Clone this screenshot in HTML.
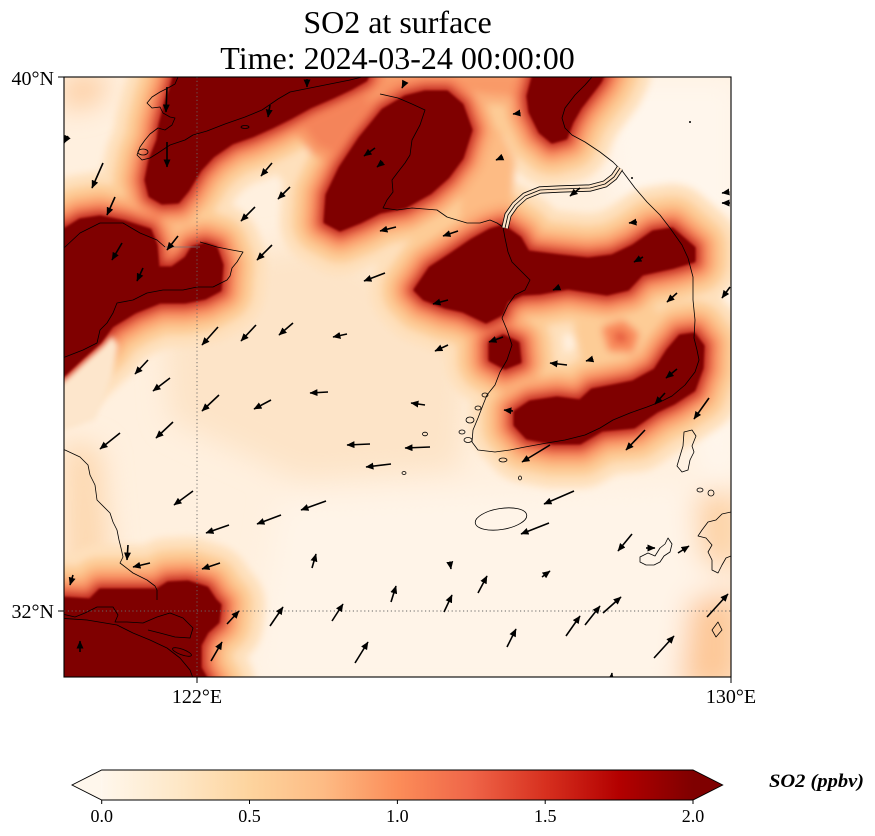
<!DOCTYPE html>
<html><head><meta charset="utf-8"><style>
html,body{margin:0;padding:0;background:#fff;}
svg{display:block;font-family:"Liberation Serif","DejaVu Serif",serif;}
.ar line{stroke:#000;stroke-width:1.6;marker-end:url(#ah);}
.cst{fill:none;stroke:#000;stroke-width:0.8;stroke-linejoin:round;}
</style></head><body>
<svg width="875" height="836" viewBox="0 0 875 836" xmlns="http://www.w3.org/2000/svg">
<defs>
<clipPath id="pc"><rect x="64" y="77" width="667" height="600"/></clipPath>
<filter id="bl" x="-30%" y="-30%" width="160%" height="160%"><feGaussianBlur stdDeviation="4"/></filter>
<filter id="bl2" x="-10%" y="-10%" width="120%" height="120%"><feGaussianBlur stdDeviation="1"/></filter>
<filter id="bl4" x="-30%" y="-30%" width="160%" height="160%"><feGaussianBlur stdDeviation="3"/></filter>
<filter id="bl3" x="-50%" y="-50%" width="200%" height="200%"><feGaussianBlur stdDeviation="14"/></filter>
<linearGradient id="cb" x1="0" x2="1" y1="0" y2="0">
<stop offset="0" stop-color="#fff7ec"/><stop offset="0.125" stop-color="#fee8c8"/><stop offset="0.25" stop-color="#fdd49e"/><stop offset="0.375" stop-color="#fdbb84"/><stop offset="0.5" stop-color="#fc8d59"/><stop offset="0.625" stop-color="#ef6548"/><stop offset="0.75" stop-color="#d7301f"/><stop offset="0.875" stop-color="#b30000"/><stop offset="1" stop-color="#7f0000"/>
</linearGradient>
<marker id="ah" viewBox="0 0 8 7" refX="7.5" refY="3.5" markerWidth="8" markerHeight="7" markerUnits="userSpaceOnUse" orient="auto"><path d="M0,0 L8,3.5 L0,7 z" fill="#000"/></marker>
<g id="dk">
<polygon points="176,70 370,70 366,80 352,88 333,97 310,107 290,118 272,127 252,136 232,143 213,156 200,170 188,190 178,202 162,203 150,196 146,180 150,160 158,140 160,125 166,102 172,85"/>
<polygon points="58,226 64,230 80,220 100,217 125,222 150,230 156,245 158,268 172,268 186,258 192,248 205,244 216,248 222,265 220,290 205,298 185,302 160,302 135,312 112,326 100,342 82,358 66,373 58,380"/>
<polygon points="325,222 327,195 340,168 360,138 383,110 405,97 425,92 447,92 462,105 471,130 462,158 448,177 430,193 405,207 380,212 360,222 340,230"/>
<polygon points="535,70 606,70 600,82 590,95 580,108 572,122 566,138 552,142 540,132 530,112 528,96"/>
<polygon points="415,290 430,268 450,255 472,240 490,230 503,226 520,238 528,252 560,256 588,259 612,256 633,246 653,232 672,229 694,248 694,261 674,267 642,274 628,289 607,294 568,288 540,293 522,294 507,301 502,314 486,322 463,311 445,307 424,299"/>
<polygon points="515,412 530,402 557,398 580,401 592,390 613,386 633,382 655,370 668,350 680,336 694,334 703,346 702,368 694,390 674,403 657,411 634,427 602,430 580,443 553,443 527,438 515,425"/>
<polygon points="58,598 90,600 100,590 157,590 168,583 188,582 207,588 215,600 220,605 218,622 207,632 200,645 200,668 210,685 58,685"/>
<polygon points="490,343 503,336 518,343 520,362 505,368 490,360"/>
</g>
<polygon id="P2" points="607,330 622,325 634,335 630,348 612,347"/>
<polygon id="O1" points="345,70 540,70 535,92 520,105 505,100 480,98 455,92 420,90 395,96 370,98"/>
<polygon id="O3" points="300,108 340,95 370,92 375,110 355,135 335,158 315,150 300,130"/>
<path id="dmz" d="M505,228 L508,215 L515,205 L525,196 L540,190 L560,189 L590,188 L605,184 L614,177 L620,168"/>
</defs>

<g clip-path="url(#pc)">
<rect x="64" y="77" width="667" height="600" fill="#fff0df"/>
<g filter="url(#bl3)">
<polygon points="600,77 740,77 740,520 700,470 660,300 610,180" fill="#fff6ec"/>
<polygon points="280,500 740,480 740,690 250,690" fill="#fff4e8"/>
<polygon points="160,270 330,240 470,330 460,470 300,480 170,420" fill="#fde4c8"/>
<polygon points="64,440 100,450 110,560 64,600" fill="#fdd8b0"/>
<polygon points="690,600 740,590 740,690 680,690" fill="#fdc898"/>
<polygon points="695,495 740,490 740,575 700,560" fill="#fdd2a4"/>
<polygon points="64,77 110,77 100,100 64,110" fill="#fdc898"/>
</g>
<g filter="url(#bl)" stroke-linejoin="round">
<use href="#dk" fill="#fee0bc" stroke="#fee0bc" stroke-width="90"/>
<use href="#O1" fill="#fee0bc" stroke="#fee0bc" stroke-width="90"/>
<use href="#O3" fill="#fee0bc" stroke="#fee0bc" stroke-width="90"/>
<use href="#dk" fill="#fdcc96" stroke="#fdcc96" stroke-width="66"/>
<use href="#O1" fill="#fdcc96" stroke="#fdcc96" stroke-width="66"/>
<use href="#P2" fill="#fdcc96" stroke="#fdcc96" stroke-width="66"/>
<polygon points="470,120 500,130 515,160 512,200 505,225 480,232 460,215 465,170" fill="#fdbb84"/>
<use href="#dk" fill="#fcae78" stroke="#fcae78" stroke-width="46"/>
<use href="#O1" fill="#f99a68" stroke="#fbb07c" stroke-width="10"/>
<use href="#O3" fill="#f4845a" stroke="#f99a68" stroke-width="10"/>
<use href="#P2" fill="#e65a3e" stroke="#f98b5b" stroke-width="10"/>
<use href="#dk" fill="#f6845a" stroke="#f6845a" stroke-width="30"/>
<use href="#dk" fill="#e0503a" stroke="#e0503a" stroke-width="17"/>
<use href="#dk" fill="#bb1a12" stroke="#bb1a12" stroke-width="8"/>
</g>
<polygon points="58,386 70,376 86,361 103,346 112,336 118,345 112,378 95,420 58,432" fill="#fde6cc" filter="url(#bl4)"/>
<use href="#dk" fill="#7f0000" stroke="#7f0000" stroke-width="3" stroke-linejoin="round" filter="url(#bl2)"/>

<line x1="197" y1="77" x2="197" y2="677" stroke="#666" stroke-width="0.9" stroke-dasharray="1.2,2.6"/>
<line x1="64" y1="611" x2="731" y2="611" stroke="#666" stroke-width="0.9" stroke-dasharray="1.2,2.6"/>

<path class="cst" d="M178,77 L175,84 L168,88 L160,92 L152,97 L147,103 L152,108 L160,107 L163,113 L170,117 L175,118 L172,125 L165,130 L158,128 L150,134 L145,140 L140,147 L137,155 L142,160 L150,158 L158,153 L170,145 L185,140 L193,135 L207,131 L225,124 L245,117 L262,110 L278,99 L290,92 L310,88 L330,84 L350,80 L362,77"/>
<path class="cst" d="M380,94 L398,98 L412,104 L425,110 L420,125 L412,140 L410,155 L405,163 L398,172 L392,180 L393,192 L387,200 L383,208 L397,210 L412,208 L437,210 L447,217 L467,223 L480,223 L490,220 L497,223 L503,227 L505,238 L508,252 L512,262 L520,270 L530,280 L525,290 L515,295 L508,305 L502,318 L507,330 L512,345 L507,360 L500,372 L495,385 L487,395 L483,405 L478,418 L473,430 L472,442 L478,450 L495,452 L510,450 L525,447 L547,443 L565,440 L585,435 L600,428 L613,420 L630,413 L647,407 L660,402 L672,396 L685,385 L695,372 L699,360 L697,350 L694,338 L695,320 L693,300 L693,277 L688,258 L682,245 L670,228 L660,215 L647,202 L635,188 L623,172 L613,162 L600,152 L585,142 L572,135 L565,128 L562,118 L565,108 L575,95 L585,85 L592,77"/>
<use href="#dmz" fill="none" stroke="#000" stroke-width="7.2"/>
<use href="#dmz" fill="none" stroke="#fde3c6" stroke-width="5.6"/>
<use href="#dmz" class="cst"/>
<path class="cst" d="M58,250 L65,247 L80,233 L100,223 L123,223 L140,233 L157,240 L165,247"/>
<path d="M165,247 L200,247" fill="none" stroke="#777" stroke-width="0.8"/>
<path class="cst" d="M200,242 L207,244 L217,247 L232,250 L243,252 L237,262 L232,268 L230,276 L227,280 L213,287 L197,287 L183,290 L163,290 L147,293 L133,300 L117,303 L113,313 L107,323 L100,330 L97,343 L83,350 L65,357 L58,360"/>
<path class="cst" d="M58,448 L65,450 L80,457 L88,465 L90,475 L95,485 L97,500 L110,513 L113,522 L117,530 L119,540 L121,548 L123,557 L120,563 L133,573 L147,580 L155,586 L157,590 L157,600"/>
<path class="cst" d="M58,613 L75,617 L85,613 L97,607 L113,607 L118,615 L115,622 L127,622 L143,623 L157,617 L170,613 L183,618 L193,628 L190,638 L175,637 L160,633 L148,630"/>
<path class="cst" d="M58,618 L87,620 L117,625 L133,633 L150,640 L167,648 L180,658 L190,670 L193,678"/>
<ellipse class="cst" cx="182" cy="652" rx="10" ry="2.8" transform="rotate(20 182 652)"/>
<ellipse class="cst" cx="501" cy="519" rx="26" ry="10.5" transform="rotate(-9 501 519)"/>
<path class="cst" d="M684,432 L692,430 L696,436 L692,446 L694,452 L690,460 L688,470 L682,472 L677,466 L680,456 L683,446 Z"/>
<path class="cst" d="M731,512 L722,514 L716,520 L708,522 L702,530 L698,536 L706,538 L712,545 L708,552 L712,560 L712,570 L718,573 L722,565 L726,558 L731,556"/>
<path class="cst" d="M640,557 L648,553 L655,556 L660,548 L665,544 L668,538 L672,544 L670,552 L664,556 L660,562 L654,565 L646,565 L640,562 Z"/>
<path class="cst" d="M712,630 L718,622 L722,630 L716,637 Z"/>
<path class="cst" d="M466,420 a4,3 0 1,0 8,0 a4,3 0 1,0 -8,0 M459,432 a3,2 0 1,0 6,0 a3,2 0 1,0 -6,0 M464,440 a4,2.5 0 1,0 8,0 a4,2.5 0 1,0 -8,0 M499,460 a4,2 0 1,0 8,0 a4,2 0 1,0 -8,0 M422.5,434 a2.5,1.8 0 1,0 5,0 a2.5,1.8 0 1,0 -5,0 M402,473 a2,1.5 0 1,0 4,0 a2,1.5 0 1,0 -4,0 M482,395 a3,2 0 1,0 6,0 a3,2 0 1,0 -6,0 M475,408 a3,2 0 1,0 6,0 a3,2 0 1,0 -6,0 M518.5,478 a1.5,2 0 1,0 3,0 a1.5,2 0 1,0 -3,0 M697,490 a3,2 0 1,0 6,0 a3,2 0 1,0 -6,0 M708,493 a3,3 0 1,0 6,0 a3,3 0 1,0 -6,0 M241,127 a4,1.5 0 1,0 8,0 a4,1.5 0 1,0 -8,0 M138,152 a5,3 0 1,0 10,0 a5,3 0 1,0 -10,0"/>
<circle cx="690" cy="122" r="1" fill="#000"/>
<circle cx="632" cy="178" r="1" fill="#000"/>

<g class="ar">
<line x1="167" y1="87" x2="166" y2="112"/><line x1="167" y1="142" x2="167" y2="167"/><line x1="270" y1="105" x2="268" y2="117"/><line x1="307" y1="79" x2="307" y2="87"/>
<line x1="103" y1="163" x2="92" y2="188"/><line x1="115" y1="197" x2="107" y2="215"/><line x1="178" y1="236" x2="167" y2="250"/><line x1="122" y1="243" x2="112" y2="260"/>
<line x1="143" y1="268" x2="137" y2="281"/><line x1="272" y1="163" x2="261" y2="176"/><line x1="290" y1="187" x2="278" y2="199"/><line x1="255" y1="207" x2="241" y2="221"/>
<line x1="272" y1="245" x2="257" y2="260"/><line x1="385" y1="273" x2="364" y2="281"/><line x1="375" y1="148" x2="364" y2="156"/><line x1="383" y1="162" x2="377" y2="167"/>
<line x1="396" y1="227" x2="380" y2="231"/><line x1="218" y1="327" x2="202" y2="345"/><line x1="256" y1="325" x2="241" y2="341"/><line x1="293" y1="323" x2="279" y2="335"/>
<line x1="347" y1="334" x2="333" y2="337"/><line x1="148" y1="360" x2="135" y2="374"/><line x1="68" y1="136" x2="64" y2="143"/><line x1="405" y1="82" x2="402" y2="88"/>
<line x1="520" y1="113" x2="513" y2="114"/><line x1="503" y1="157" x2="496" y2="160"/><line x1="580" y1="188" x2="570" y2="196"/><line x1="637" y1="222" x2="629" y2="223"/>
<line x1="729" y1="192" x2="722" y2="193"/><line x1="730" y1="203" x2="722" y2="203"/><line x1="458" y1="231" x2="443" y2="236"/><line x1="643" y1="257" x2="634" y2="262"/>
<line x1="560" y1="287" x2="553" y2="290"/><line x1="448" y1="300" x2="433" y2="304"/><line x1="677" y1="293" x2="667" y2="302"/><line x1="730" y1="287" x2="722" y2="298"/>
<line x1="503" y1="337" x2="489" y2="342"/><line x1="448" y1="345" x2="435" y2="351"/><line x1="567" y1="365" x2="550" y2="363"/><line x1="593" y1="359" x2="586" y2="361"/>
<line x1="677" y1="369" x2="666" y2="378"/><line x1="170" y1="378" x2="153" y2="391"/><line x1="219" y1="395" x2="202" y2="411"/><line x1="271" y1="400" x2="254" y2="409"/>
<line x1="328" y1="392" x2="310" y2="393"/><line x1="173" y1="422" x2="156" y2="438"/><line x1="120" y1="433" x2="100" y2="449"/><line x1="370" y1="444" x2="347" y2="445"/>
<line x1="391" y1="464" x2="366" y2="467"/><line x1="193" y1="491" x2="174" y2="505"/><line x1="326" y1="501" x2="301" y2="510"/><line x1="281" y1="515" x2="257" y2="524"/>
<line x1="229" y1="525" x2="206" y2="533"/><line x1="128" y1="545" x2="127" y2="560"/><line x1="150" y1="563" x2="133" y2="567"/><line x1="220" y1="563" x2="202" y2="569"/>
<line x1="312" y1="568" x2="316" y2="554"/><line x1="73" y1="575" x2="70" y2="585"/><line x1="391" y1="602" x2="396" y2="586"/><line x1="227" y1="624" x2="239" y2="611"/>
<line x1="270" y1="626" x2="283" y2="607"/><line x1="332" y1="621" x2="343" y2="604"/><line x1="80" y1="652" x2="80" y2="641"/><line x1="211" y1="661" x2="222" y2="642"/>
<line x1="355" y1="663" x2="368" y2="642"/><line x1="665" y1="393" x2="655" y2="404"/><line x1="709" y1="398" x2="694" y2="419"/><line x1="645" y1="430" x2="626" y2="450"/>
<line x1="425" y1="405" x2="411" y2="403"/><line x1="513" y1="411" x2="504" y2="410"/><line x1="550" y1="445" x2="522" y2="462"/><line x1="430" y1="447" x2="405" y2="448"/>
<line x1="574" y1="491" x2="544" y2="504"/><line x1="549" y1="523" x2="521" y2="534"/><line x1="632" y1="534" x2="618" y2="551"/><line x1="646" y1="548" x2="655" y2="548"/>
<line x1="678" y1="553" x2="689" y2="546"/><line x1="478" y1="593" x2="487" y2="576"/><line x1="542" y1="577" x2="550" y2="571"/><line x1="444" y1="612" x2="452" y2="595"/>
<line x1="507" y1="647" x2="516" y2="629"/><line x1="566" y1="636" x2="580" y2="616"/><line x1="585" y1="625" x2="600" y2="606"/><line x1="603" y1="613" x2="621" y2="597"/>
<line x1="654" y1="658" x2="674" y2="636"/><line x1="707" y1="617" x2="728" y2="594"/><line x1="611" y1="680" x2="612" y2="673"/><line x1="450" y1="563" x2="451" y2="569"/>
</g>
</g>

<rect x="64" y="77" width="667" height="600" fill="none" stroke="#000" stroke-width="1.1"/>
<path d="M197,677 V683 M731,677 V683 M58,77 H64 M58,611 H64" stroke="#000" stroke-width="1"/>

<g font-size="20" fill="#000">
<text x="54" y="85" text-anchor="end">40°N</text>
<text x="54" y="618" text-anchor="end">32°N</text>
<text x="197" y="703" text-anchor="middle">122°E</text>
<text x="731" y="703" text-anchor="middle">130°E</text>
</g>

<g font-size="32" fill="#000" text-anchor="middle">
<text x="397.5" y="33">SO2 at surface</text>
<text x="397.5" y="69">Time: 2024-03-24 00:00:00</text>
</g>

<rect x="101.7" y="770" width="591.3" height="30" fill="url(#cb)"/>
<polygon points="101.7,770 72,785 101.7,800" fill="#fff7ec"/>
<polygon points="693,770 722.7,785 693,800" fill="#7f0000"/>
<path d="M101.7,770 L693,770 L722.7,785 L693,800 L101.7,800 L72,785 Z" fill="none" stroke="#000" stroke-width="0.9"/>
<path d="M101.7,800 V804 M249.5,800 V804 M397.4,800 V804 M545.2,800 V804 M693,800 V804" stroke="#000" stroke-width="1"/>
<g font-size="18" fill="#000" text-anchor="middle">
<text x="101.7" y="822">0.0</text>
<text x="249.5" y="822">0.5</text>
<text x="397.4" y="822">1.0</text>
<text x="545.2" y="822">1.5</text>
<text x="693" y="822">2.0</text>
</g>
<text x="769" y="787" font-size="19" font-weight="bold" font-style="italic" textLength="95" lengthAdjust="spacingAndGlyphs">SO2 (ppbv)</text>
</svg>
</body></html>
